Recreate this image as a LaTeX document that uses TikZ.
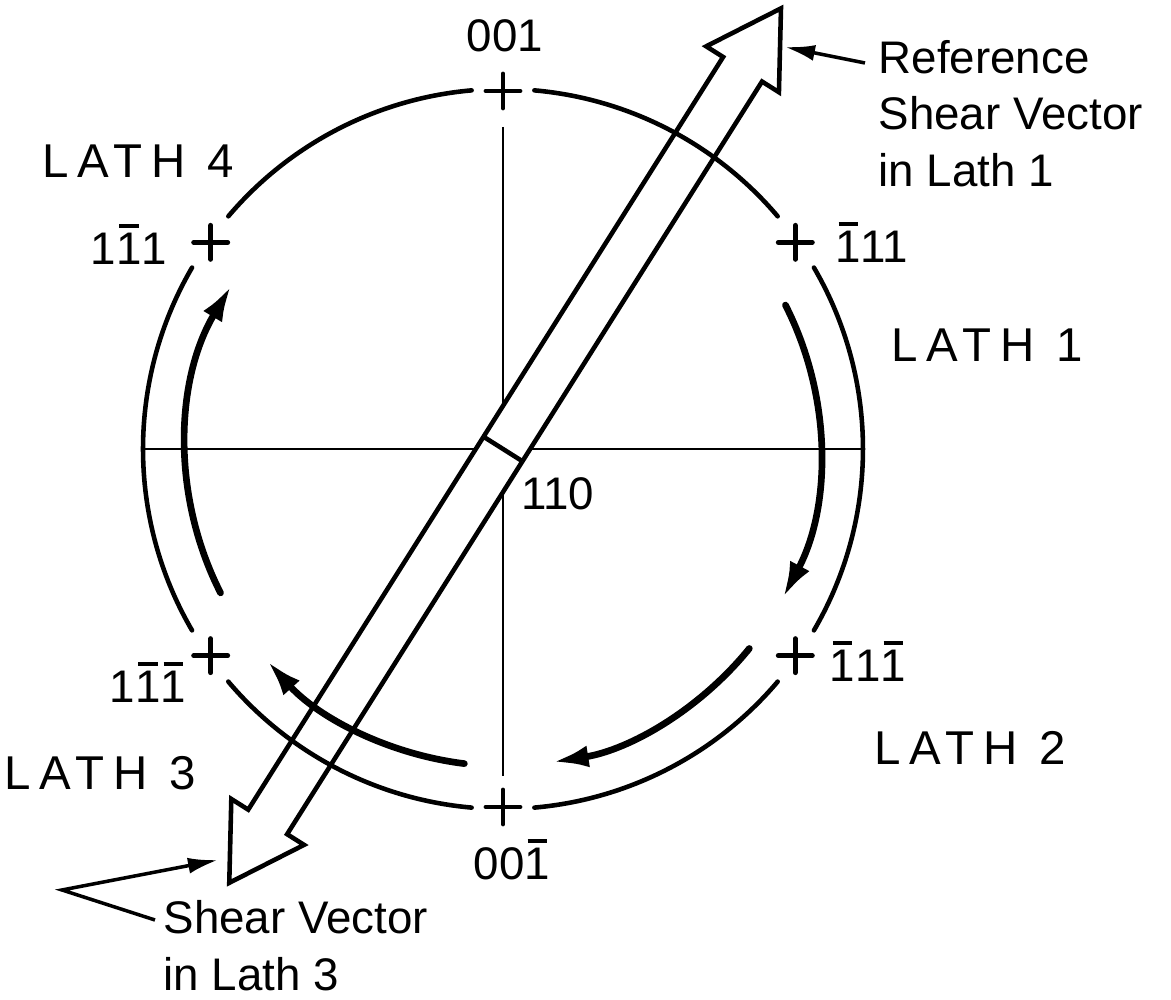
\documentclass[tikz,border=0pt]{standalone}
\usepackage{fontspec}
\setmainfont{Liberation Sans}
\newfontfamily\lathfont[LetterSpace=18]{Liberation Sans}
\usetikzlibrary{arrows.meta}

% index with a bar over it
\newcommand\ibar[1]{\setbox0\hbox{#1}\rlap{\hspace{0.12\wd0}\rule[\dimexpr\ht0+1.5pt\relax]{0.76\wd0}{1.2pt}}\box0\relax}

\begin{document}
\begin{tikzpicture}[
  x=1mm,y=1mm,
  rim/.style={line width=1.3pt, line cap=round},
  axis/.style={line width=0.7pt},
  turn/.style={line width=1.9pt, line cap=round, -{Latex[length=3.6mm,width=2.2mm]}},
  pole/.style={line width=1.4pt, line cap=round},
  shaft/.style={line width=1.3pt, line join=miter, fill=white},
  idx/.style={font=\fontsize{13}{16}\selectfont, inner sep=0pt, anchor=base},
  lath/.style={font=\fontsize{13.5}{16}\selectfont\lathfont, inner sep=0pt, anchor=base},
  note/.style={font=\fontsize{13}{16}\selectfont, align=left, inner sep=0pt, anchor=north west},
  ptr/.style={line width=1pt, -{Latex[length=3mm,width=1.6mm]}}
]
\useasboundingbox (-50.3,-55.1) rectangle (66.8,44.9);

% axes
\draw[axis] (-36.2,0) -- (36.0,0);
\draw[axis] (0,32.2) -- (0,-32.7);

% shear vector
\begin{scope}[rotate=57.75]
  \draw[shaft] (-44.1,2.3) -- (44.9,2.3) -- (44.9,4.3) -- (52.1,0) -- (44.9,-4.3) -- (44.9,-2.3)
    -- (-44.1,-2.3) -- (-44.1,-4.3) -- (-51.3,0) -- (-44.1,4.3) -- cycle;
  \draw[shaft] (0,2.3) -- (0,-2.3);
\end{scope}

% rim of the projection, broken at the poles
\foreach \s/\e in {95/139.74, 149.74/210.26, 220.26/265, 275/319.74, 329.74/390.26, 400.26/445}
  \draw[rim] (\s:36) arc[start angle=\s, end angle=\e, radius=36mm];
\foreach \a in {90,35.26,-35.26,-90,-144.74,144.74}
  \draw[pole] (\a:35.8) ++(-1.7,0) -- ++(3.4,0) ++(-1.7,1.7) -- ++(0,-3.4);

% sense of the laths
\draw[turn] (27:31.7) arc[start angle=27, end angle=-28, radius=31.7mm];
\draw[turn] (-39:31.7) arc[start angle=-39, end angle=-81, radius=31.7mm];
\draw[turn] (-97:31.7) arc[start angle=-97, end angle=-138, radius=31.7mm];
\draw[turn] (207:31.7) arc[start angle=207, end angle=149, radius=31.7mm];

% poles
\node[idx] (n001) at (0.2,39.7) {001};
\node[idx] (n00b) at (0.9,-43.1) {00\ibar{1}};
\node[idx] (n1b1) at (-37.4,18.4) {1\ibar{1}1};
\node[idx] (nb11) at (36.9,18.6) {\ibar{1}11};
\node[idx] (nb1b) at (36.5,-23.3) {\ibar{1}1\ibar{1}};
\node[idx] (n1bb) at (-35.5,-25.4) {1\ibar{1}\ibar{1}};
\node[idx] (n110) at (5.5,-6.1) {110};

% laths
\node[lath] (lath4) at (-36.5,27.1) {LATH 4};
\node[lath] (lath1) at (48.4,8.7) {LATH 1};
\node[lath] (lath2) at (46.7,-31.6) {LATH 2};
\node[lath] (lath3) at (-40.3,-34.1) {LATH 3};

% notes
\node[note] (refnote) at (37.5,40.9) {Reference\\Shear Vector\\in Lath 1};
\node[note] (shnote) at (-34.0,-45.1) {Shear Vector\\in Lath 3};
\coordinate (reftail) at (36.2,38.6);
\coordinate (reftip) at (28.2,40.2);
\draw[ptr] (reftail) -- (reftip);
\coordinate (shtail) at (-34.8,-47.1);
\coordinate (shbend) at (-44.1,-44.1);
\coordinate (shtip) at (-28.5,-41.1);
\draw[ptr] (shtail) -- (shbend) -- (shtip);

\end{tikzpicture}
\end{document}
